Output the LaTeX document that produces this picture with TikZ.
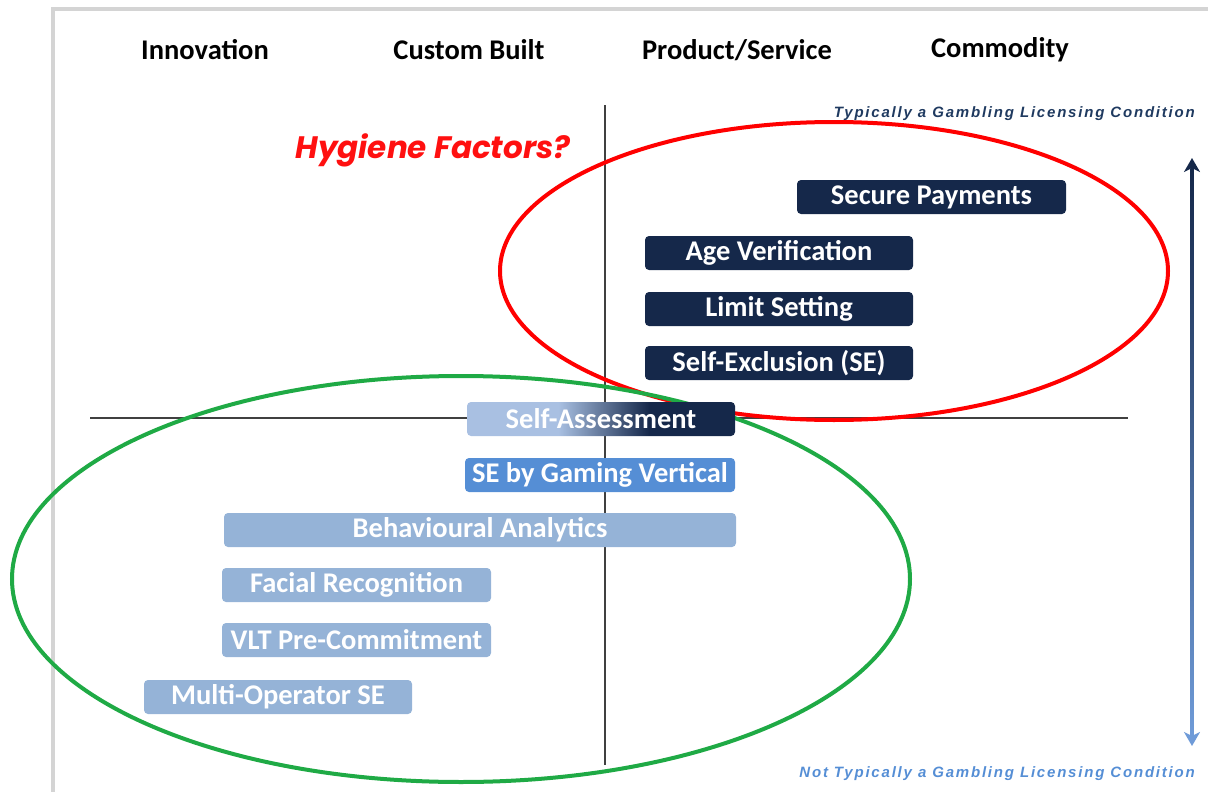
\documentclass[tikz,border=0pt]{standalone}
\usepackage{fontspec}
\setmainfont{Carlito}
\newfontfamily\hygfont{Poppins}
\newfontfamily\smallfont[LetterSpace=12]{Liberation Sans}
\usetikzlibrary{arrows.meta}
\definecolor{navy}{HTML}{15284A}
\definecolor{navyB}{HTML}{1F3A60}
\definecolor{lightbox}{HTML}{95B3D7}
\definecolor{lightA}{HTML}{A9C0E2}
\definecolor{midbox}{HTML}{558ED5}
\definecolor{arrowlight}{HTML}{6F9BD8}
\definecolor{framegray}{HTML}{D4D4D4}
\definecolor{axisgray}{HTML}{404040}
\definecolor{hygred}{HTML}{FF1010}
\definecolor{ellred}{HTML}{FF0000}
\definecolor{ellgreen}{HTML}{1FAA45}
\pgfdeclarehorizontalshading{sashade}{100bp}{color(0bp)=(lightA); color(42bp)=(lightA); color(59bp)=(navy); color(100bp)=(navy)}
\tikzset{
  header/.style={font=\fontsize{28.5}{31}\selectfont\bfseries, text=black},
  box/.style={rectangle, rounded corners=4pt, minimum height=34pt, inner sep=0pt,
    text=white, font=\fontsize{28.5}{30}\selectfont\bfseries},
  darkbox/.style={box, fill=navy},
  lightbx/.style={box, fill=lightbox},
  axis/.style={draw=axisgray, line width=2pt},
  note/.style={font=\smallfont\fontsize{15}{17}\selectfont\bfseries\itshape, anchor=east, inner sep=0pt}
}
\begin{document}
\begin{tikzpicture}[x=1pt,y=-1pt]
\useasboundingbox (0,0) rectangle (1208,792);
% frame
\draw[framegray, line width=4pt] (53,795) -- (53,9) -- (1212,9);
% headers
\node[header] (h1) at (205,50) {Innovation};
\node[header] (h2) at (469,50) {Custom Built};
\node[header] (h3) at (737,50) {Product/Service};
\node[header] (h4) at (1000,50) {Commodity};
% axes
\coordinate (vt) at (605,105); \coordinate (vb) at (605,765);
\coordinate (hl) at (90,418); \coordinate (hr) at (1128,418);
\draw[axis] (vt) -- (vb);
\draw[axis] (hl) -- (hr);
% hygiene
\node[font=\hygfont\fontsize{31}{34}\selectfont\bfseries\itshape, text=hygred] (hyg) at (433,150) {Hygiene Factors?};
% notes
\node[note, text=navyB] (n1) at (1195,114) {Typically a Gambling Licensing Condition};
\node[note, text=midbox] (n2) at (1195,774) {Not Typically a Gambling Licensing Condition};
% ellipses
\draw[ellred, line width=4pt] (834,271) ellipse [x radius=334, y radius=149];
\draw[ellgreen, line width=4pt] (461,579) ellipse [x radius=449, y radius=203];
% boxes
\node[darkbox, minimum width=269pt] (sp) at (931.5,197) {Secure Payments};
\node[darkbox, minimum width=268pt] (av) at (779,253) {Age Verification};
\node[darkbox, minimum width=268pt] (ls) at (779,309) {Limit Setting};
\node[darkbox, minimum width=268pt] (se) at (779,363) {Self-Exclusion (SE)};
\node[box, shading=sashade, minimum width=268pt] (sa) at (601,419) {Self-Assessment};
\node[box, fill=midbox, minimum width=270pt] (sg) at (600,475) {SE by Gaming Vertical};
\node[lightbx, minimum width=512pt] (ba) at (480,530) {Behavioural Analytics};
\node[lightbx, minimum width=269pt] (fr) at (356.5,585) {Facial Recognition};
\node[lightbx, minimum width=269pt] (vlt) at (356.5,640) {VLT Pre-Commitment};
\node[lightbx, minimum width=268pt] (mo) at (278,697) {Multi-Operator SE};
% vertical double arrow with gradient
\coordinate (atop) at (1192,158);
\coordinate (abot) at (1192,746);
\coordinate (ashaftT) at (1192,170);
\coordinate (ashaftB) at (1192,734);
\shade[top color=navy, bottom color=arrowlight] (1190.5,168) rectangle (1193.5,736);
\draw[navy, line width=3pt, -{Stealth[length=14pt,width=16pt,inset=4pt]}] (ashaftT) -- (atop);
\draw[arrowlight, line width=3pt, -{Stealth[length=14pt,width=16pt,inset=4pt]}] (ashaftB) -- (abot);
\end{tikzpicture}
\end{document}
